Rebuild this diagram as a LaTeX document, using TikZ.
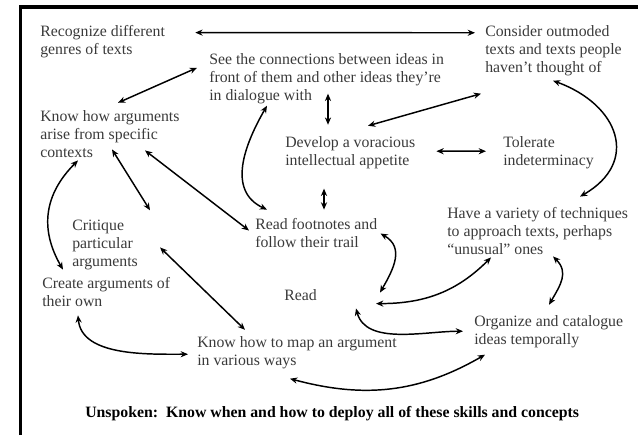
\documentclass[tikz,border=0pt]{standalone}
\usepackage{fontspec}
\setmainfont{Liberation Serif}
\usetikzlibrary{arrows.meta, positioning, calc}
\definecolor{ideagray}{HTML}{3A3A3A}
\tikzset{
  % texts (anchored at the base line of the last line)
  idea/.style     = {align=left, anchor=base west, inner sep=0pt, text=ideagray,
                     font=\fontsize{11.85}{13.5}\selectfont},
  unspoken/.style = {anchor=base west, inner sep=0pt, text=black,
                     font=\fontsize{11.85}{13.5}\selectfont\bfseries},
  frame/.style    = {line width=2.8pt},
  % arrows
  link/.style = {{Stealth[length=5.5pt,width=4.6pt]}-{Stealth[length=5.5pt,width=4.6pt]},
                 line width=1.1pt},
}
\begin{document}
\begin{tikzpicture}[x=0.75pt, y=-0.75pt]
\useasboundingbox (0,0) rectangle (638,435);

% ---------- Frame ----------
\draw[frame] (20.5,435) -- (20.5,7) -- (638,7);

% ---------- Skills ----------
\node[idea] (genres)    at (40,55)   {Recognize different\\genres of texts};
\node[idea] (connect)   at (209,100) {See the connections between ideas in\\front of them and other ideas they're\\in dialogue with};
\node[idea] (outmoded)  at (485,73)  {Consider outmoded\\texts and texts people\\haven't thought of};
\node[idea] (contexts)  at (40,157)  {Know how arguments\\arise from specific\\contexts};
\node[idea] (appetite)  at (285,165) {Develop a voracious\\intellectual appetite};
\node[idea] (tolerate)  at (503,165) {Tolerate\\indeterminacy};
\node[idea] (footnotes) at (255,247) {Read footnotes and\\follow their trail};
\node[idea] (critique)  at (72,266)  {Critique\\particular\\arguments};
\node[idea] (create)    at (42,306)  {Create arguments of\\their own};
\node[idea] (read)      at (284,300) {Read};
\node[idea] (variety)   at (447,254) {Have a variety of techniques\\to approach texts, perhaps\\``unusual'' ones};
\node[idea] (organize)  at (474,344) {Organize and catalogue\\ideas temporally};
\node[idea] (mapping)   at (197,365) {Know how to map an argument\\in various ways};

% ---------- Footer ----------
\node[unspoken] (unspoken) at (85,417)
  {Unspoken:\ \ Know when and how to deploy all of these skills and concepts};

% ---------- Straight links ----------
\draw[link] ([shift={(30,7)}]genres.north east)     -- ([shift={(-10,7)}]outmoded.north west);
\draw[link] ([shift={(78,-7)}]contexts.north west)  -- ([shift={(-12,15)}]connect.north west);
\draw[link] ([shift={(119,-10)}]connect.south west) -- ([shift={(43,-11)}]appetite.north west);
\draw[link] ([shift={(-4,17)}]outmoded.south west)  -- ([shift={(83,-10)}]appetite.north west);
\draw[link] ([shift={(21,-1)}]appetite.east)        -- ([shift={(-17,-1)}]tolerate.west);
\draw[link] ([shift={(39,20)}]appetite.south west)  -- ([shift={(69,-8)}]footnotes.north west);
\draw[link] ([shift={(72,-8)}]contexts.south west)  -- ([shift={(78,-9)}]critique.north west);
\draw[link] ([shift={(105,-7)}]contexts.south west) -- ([shift={(-6,-2)}]footnotes.west);
\draw[link] ([shift={(22,3)}]critique.east)         -- ([shift={(48,-6)}]mapping.north west);

% ---------- Curved links ----------
\draw[link] ([shift={(58,2)}]connect.south west)
  to[out=240, in=155, looseness=1.1] ([shift={(12,-8)}]footnotes.north west);
\draw[link] ([shift={(68,4)}]outmoded.south west)
  to[out=-20, in=30, looseness=1.5] ([shift={(133,-10)}]variety.north west);
\draw[link] ([shift={(38,3)}]contexts.south west)
  to[out=225, in=120, looseness=1.1] ([shift={(21,-7)}]create.north west);
\draw[link] ([shift={(36,9)}]create.south west)
  to[out=-85, in=180, looseness=0.9] ([shift={(-9,2)}]mapping.west);
\draw[link] ([shift={(3,1)}]footnotes.east)
  to[out=-30, in=60, looseness=1.2] ([shift={(63,-2)}]read.east);
\draw[link] ([shift={(59,9)}]read.east)
  to[out=0, in=225, looseness=1] ([shift={(44,3)}]variety.south west);
\draw[link] ([shift={(39,8)}]read.south east)
  to[out=-75, in=180, looseness=0.9] ([shift={(-11,0)}]organize.west);
\draw[link] ([shift={(106,2)}]variety.south west)
  to[out=-45, in=60, looseness=1.2] ([shift={(75,-10)}]organize.north west);
\draw[link] ([shift={(93,10)}]mapping.south west)
  to[out=-15, in=210, looseness=1] ([shift={(11,7)}]organize.south west);

\end{tikzpicture}
\end{document}
